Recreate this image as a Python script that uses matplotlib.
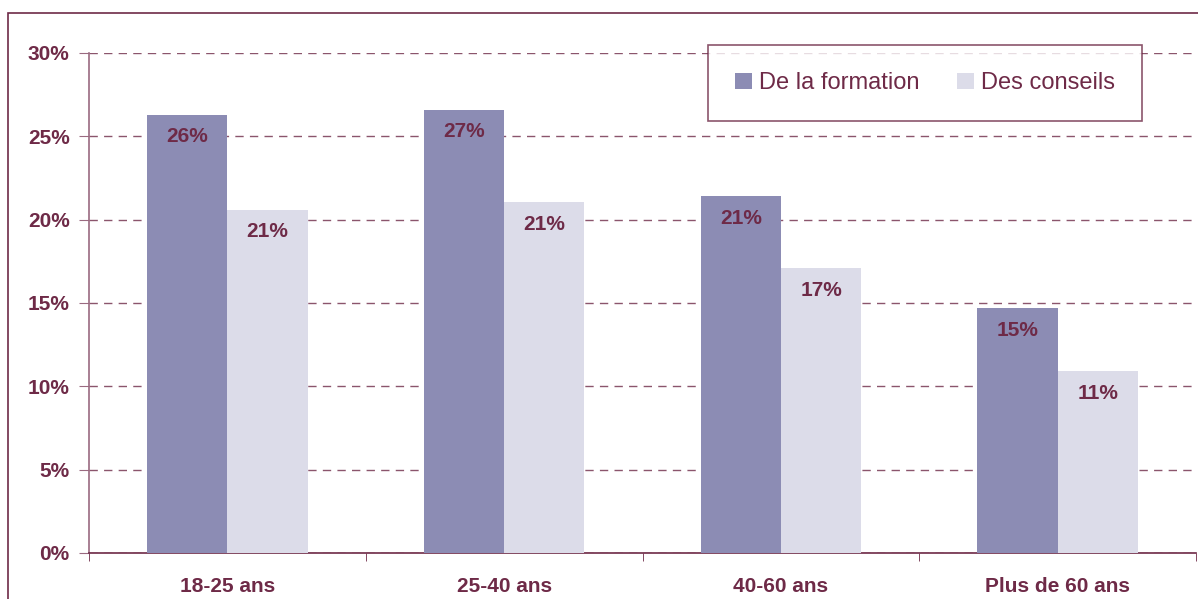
import matplotlib.pyplot as plt
import numpy as np
from matplotlib.patches import Rectangle


categories = ["18-25 ans", "25-40 ans", "40-60 ans", "Plus de 60 ans"]
formation = [26.3, 26.6, 21.4, 14.7]
conseils = [20.6, 21.05, 17.1, 10.9]
formation_labels = ["26%", "27%", "21%", "15%"]
conseils_labels = ["21%", "21%", "17%", "11%"]
series_names = ["De la formation", "Des conseils"]

MAROON = "#6e2a47"
GRID = "#9a6a80"
COL_FORM = "#8c8cb4"
COL_CONS = "#dcdce9"

plt.rcParams["font.family"] = ["Liberation Sans", "DejaVu Sans"]

fig = plt.figure(figsize=(11.98, 5.99), dpi=100)

# cadre extérieur
fig.patches.append(Rectangle((8 / 1198, -0.1), 1.2, 1.1 - 14 / 599 + 0.001,
                             transform=fig.transFigure, fill=False,
                             edgecolor=MAROON, linewidth=1.2))

ax = fig.add_axes([89 / 1198, 1 - 553 / 599, (1196 - 89) / 1198, 500 / 599])

x = np.arange(len(categories))
width = 0.29

bars1 = ax.bar(x - width / 2, formation, width, color=COL_FORM, label=series_names[0], zorder=3)
bars2 = ax.bar(x + width / 2, conseils, width, color=COL_CONS, label=series_names[1], zorder=3)

for bars, labels in [(bars1, formation_labels), (bars2, conseils_labels)]:
    for bar, text in zip(bars, labels):
        ax.annotate(text, (bar.get_x() + bar.get_width() / 2, bar.get_height()),
                    xytext=(0, -16), textcoords="offset points",
                    ha="center", va="center", fontsize=15, fontweight="bold",
                    color=MAROON, zorder=4)

ax.set_xlim(-0.5, len(categories) - 0.5)
ax.set_ylim(0, 30)
ax.set_yticks(np.arange(0, 31, 5))
ax.set_yticklabels([f"{v}%" for v in range(0, 31, 5)])

ax.set_xticks(x)
ax.set_xticklabels(categories)
ax.set_xticks(np.arange(-0.5, len(categories), 1), minor=True)
ax.tick_params(axis="x", which="major", length=0, pad=17, labelsize=15, labelcolor=MAROON)
ax.tick_params(axis="x", which="minor", length=6, color=MAROON, direction="out")
ax.tick_params(axis="y", length=7, color=GRID, pad=7, labelsize=15, labelcolor=MAROON)
for lab in ax.get_xticklabels() + ax.get_yticklabels():
    lab.set_fontweight("bold")

ax.yaxis.grid(True, linestyle=(0, (6, 4.5)), color=MAROON, linewidth=1, alpha=0.8, zorder=0)
ax.set_axisbelow(True)

for side in ["top", "right"]:
    ax.spines[side].set_visible(False)
ax.spines["left"].set_color(GRID)
ax.spines["left"].set_linewidth(1.2)
ax.spines["bottom"].set_color(MAROON)
ax.spines["bottom"].set_linewidth(1.2)

leg = ax.legend(loc="upper left", bbox_to_anchor=((708 - 89) / 1107, (553 - 45) / 500),
                ncol=2, frameon=True, fancybox=False, fontsize=17,
                handlelength=0.7, handleheight=0.7, handletextpad=0.3,
                columnspacing=1.6, borderpad=1.15, borderaxespad=0)
leg.get_frame().set_edgecolor(MAROON)
leg.get_frame().set_linewidth(1.2)
for t in leg.get_texts():
    t.set_color(MAROON)

fig.savefig("out.png", dpi=100)
